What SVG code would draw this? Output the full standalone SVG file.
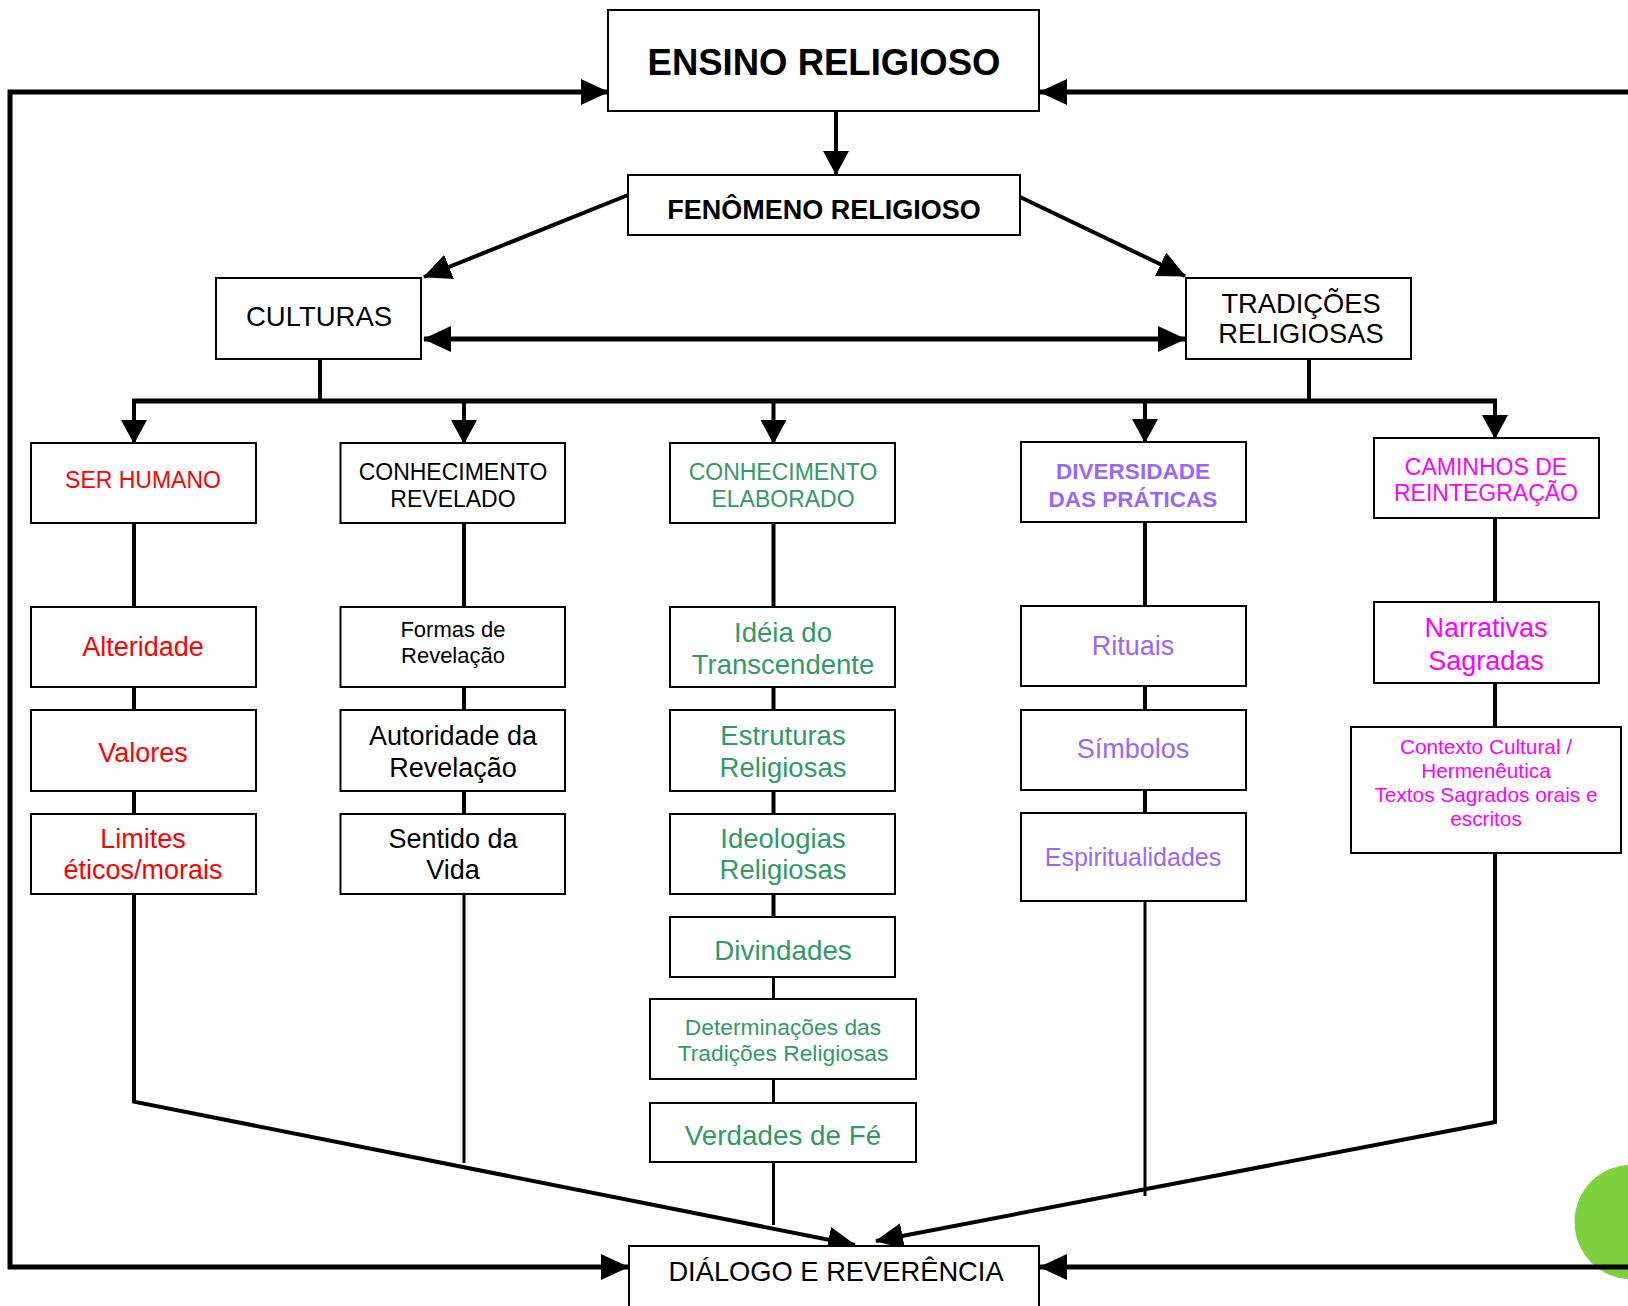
<svg xmlns="http://www.w3.org/2000/svg" width="1628" height="1306" viewBox="0 0 1628 1306">
<style>
.box{fill:#fff;stroke:#000;stroke-width:2}
.t{font-family:"Liberation Sans",Arial,sans-serif;text-anchor:middle}
.b{font-weight:bold}
.k{fill:#000}.r{fill:#FF0000}.g{fill:#339966}.p{fill:#9966FF}.m{fill:#FF00FF}
.ln{fill:none;stroke:#000;stroke-width:4}
.th{fill:none;stroke:#000;stroke-width:5}
.tn{fill:none;stroke:#000;stroke-width:3}
</style>
<defs>
<marker id="ah" viewBox="0 0 28 26" refX="27" refY="13" markerWidth="28" markerHeight="26" markerUnits="userSpaceOnUse" orient="auto-start-reverse">
<path d="M0,0 L28,13 L0,26 z" fill="#000"/>
</marker>
<marker id="ad" viewBox="0 0 24 26" refX="23" refY="13" markerWidth="24" markerHeight="26" markerUnits="userSpaceOnUse" orient="auto">
<path d="M0,0 L24,13 L0,26 z" fill="#000"/>
</marker>
</defs>
<circle cx="1632" cy="1222" r="57.5" fill="#7ED03C"/>
<g id="connectors">
<path class="th" d="M608,92 H10 V1267 H628" marker-start="url(#ah)" marker-end="url(#ah)"/>
<path class="th" d="M1628,92 H1040" marker-end="url(#ah)"/>
<path class="th" d="M1628,1267 H1040" marker-end="url(#ah)"/>
<path class="ln" d="M836,111 V174" marker-end="url(#ad)"/>
<path class="ln" d="M628,195 L424,277" marker-end="url(#ah)"/>
<path class="ln" d="M1020,197 L1185,276" marker-end="url(#ah)"/>
<path class="th" d="M424,339 H1185" marker-start="url(#ah)" marker-end="url(#ah)"/>
<path class="ln" d="M320,358 V401"/>
<path class="ln" d="M1309,358 V401"/>
<path class="th" d="M132,401 H1497"/>
<path class="ln" d="M134,401 V443" marker-end="url(#ad)"/>
<path class="ln" d="M464,401 V443" marker-end="url(#ad)"/>
<path class="ln" d="M773.5,401 V443" marker-end="url(#ad)"/>
<path class="ln" d="M1145,401 V442" marker-end="url(#ad)"/>
<path class="ln" d="M1495,401 V438" marker-end="url(#ad)"/>
<path class="ln" d="M134,523 V607 M134,687 V710 M134,791 V814"/>
<path class="ln" d="M134,894 V1101.6 L855,1245" marker-end="url(#ah)"/>
<path class="ln" d="M464,523 V607 M464,687 V710 M464,791 V814"/>
<path class="tn" d="M464,894 V1163"/>
<path class="ln" d="M773.5,523 V607 M773.5,687 V710 M773.5,791 V814 M773.5,894 V917"/>
<path class="tn" d="M773.5,977 V999 M773.5,1079 V1103 M773.5,1162 V1225"/>
<path class="ln" d="M1145,522 V606 M1145,686 V710 M1145,790 V813"/>
<path class="tn" d="M1145,901 V1196"/>
<path class="ln" d="M1495,518 V602 M1495,683 V727"/>
<path class="ln" d="M1495,853.5 V1122 L876,1241" marker-end="url(#ah)"/>
</g>
<g id="ensino"><rect class="box" x="608" y="10" width="431" height="101"/><text class="t b k" x="824" y="75" font-size="36.5">ENSINO RELIGIOSO</text></g>
<g id="fenomeno"><rect class="box" x="628" y="175" width="392" height="60" stroke-width="3"/><text class="t b k" x="824" y="219" font-size="27">FENÔMENO RELIGIOSO</text></g>
<g id="culturas"><rect class="box" x="216" y="278" width="205" height="81"/><text class="t k" x="319" y="326" font-size="27.5">CULTURAS</text></g>
<g id="tradicoes"><rect class="box" x="1186" y="278" width="225" height="81"/><text class="t k" x="1301" y="313" font-size="27.3">TRADIÇÕES</text><text class="t k" x="1301" y="343" font-size="27.3">RELIGIOSAS</text></g>
<g id="ser-humano"><rect class="box" x="31" y="443" width="225" height="80"/><text class="t r" x="143" y="488" font-size="23">SER HUMANO</text></g>
<g id="alteridade"><rect class="box" x="31" y="607" width="225" height="80"/><text class="t r" x="143" y="656" font-size="27">Alteridade</text></g>
<g id="valores"><rect class="box" x="31" y="710" width="225" height="81"/><text class="t r" x="143" y="762" font-size="27">Valores</text></g>
<g id="limites"><rect class="box" x="31" y="814" width="225" height="80"/><text class="t r" x="143" y="848" font-size="27">Limites</text><text class="t r" x="143" y="879" font-size="27">éticos/morais</text></g>
<g id="conhecimento-revelado"><rect class="box" x="340.5" y="443" width="224.5" height="80"/><text class="t k" x="453" y="480" font-size="23">CONHECIMENTO</text><text class="t k" x="453" y="507" font-size="23">REVELADO</text></g>
<g id="formas"><rect class="box" x="340.5" y="607" width="224.5" height="80"/><text class="t k" x="453" y="637" font-size="22">Formas de</text><text class="t k" x="453" y="663" font-size="22">Revelação</text></g>
<g id="autoridade"><rect class="box" x="340.5" y="710" width="224.5" height="81"/><text class="t k" x="453" y="745" font-size="27">Autoridade da</text><text class="t k" x="453" y="777" font-size="27">Revelação</text></g>
<g id="sentido"><rect class="box" x="340.5" y="814" width="224.5" height="80"/><text class="t k" x="453" y="848" font-size="27">Sentido da</text><text class="t k" x="453" y="879" font-size="27">Vida</text></g>
<g id="conhecimento-elaborado"><rect class="box" x="670" y="443" width="225" height="80"/><text class="t g" x="783" y="480" font-size="23">CONHECIMENTO</text><text class="t g" x="783" y="507" font-size="23">ELABORADO</text></g>
<g id="ideia"><rect class="box" x="670" y="607" width="225" height="80"/><text class="t g" x="783" y="642" font-size="27.5">Idéia do</text><text class="t g" x="783" y="674" font-size="27.5">Transcendente</text></g>
<g id="estruturas"><rect class="box" x="670" y="710" width="225" height="81"/><text class="t g" x="783" y="745" font-size="27.5">Estruturas</text><text class="t g" x="783" y="777" font-size="27.5">Religiosas</text></g>
<g id="ideologias"><rect class="box" x="670" y="814" width="225" height="80"/><text class="t g" x="783" y="848" font-size="27.5">Ideologias</text><text class="t g" x="783" y="879" font-size="27.5">Religiosas</text></g>
<g id="divindades"><rect class="box" x="670" y="917" width="225" height="60"/><text class="t g" x="783" y="960" font-size="27.8">Divindades</text></g>
<g id="determinacoes"><rect class="box" x="650" y="999" width="266" height="80"/><text class="t g" x="783" y="1035" font-size="22.8">Determinações das</text><text class="t g" x="783" y="1061" font-size="22.8">Tradições Religiosas</text></g>
<g id="verdades"><rect class="box" x="650" y="1103" width="266" height="59"/><text class="t g" x="783" y="1145" font-size="27.8">Verdades de Fé</text></g>
<g id="diversidade"><rect class="box" x="1021" y="442" width="225" height="80"/><text class="t b p" x="1133" y="479" font-size="22.5">DIVERSIDADE</text><text class="t b p" x="1133" y="507" font-size="22.5">DAS PRÁTICAS</text></g>
<g id="rituais"><rect class="box" x="1021" y="606" width="225" height="80"/><text class="t p" x="1133" y="655" font-size="27">Rituais</text></g>
<g id="simbolos"><rect class="box" x="1021" y="710" width="225" height="80"/><text class="t p" x="1133" y="758" font-size="27">Símbolos</text></g>
<g id="espiritualidades"><rect class="box" x="1021" y="813" width="225" height="88"/><text class="t p" x="1133" y="866" font-size="25">Espiritualidades</text></g>
<g id="caminhos"><rect class="box" x="1374" y="438" width="225" height="80"/><text class="t m" x="1486" y="475" font-size="23">CAMINHOS DE</text><text class="t m" x="1486" y="501" font-size="23">REINTEGRAÇÃO</text></g>
<g id="narrativas"><rect class="box" x="1374" y="602" width="225" height="81"/><text class="t m" x="1486" y="637" font-size="27">Narrativas</text><text class="t m" x="1486" y="670" font-size="27">Sagradas</text></g>
<g id="contexto"><rect class="box" x="1351" y="727" width="270" height="126"/><text class="t m" x="1486" y="754" font-size="20.8">Contexto Cultural /</text><text class="t m" x="1486" y="778" font-size="20.8">Hermenêutica</text><text class="t m" x="1486" y="802" font-size="20.8">Textos Sagrados orais e</text><text class="t m" x="1486" y="826" font-size="20.8">escritos</text></g>
<g id="dialogo"><rect class="box" x="629" y="1246" width="410" height="70"/><text class="t k" x="836" y="1281" font-size="27.3">DIÁLOGO E REVERÊNCIA</text></g>
</svg>
